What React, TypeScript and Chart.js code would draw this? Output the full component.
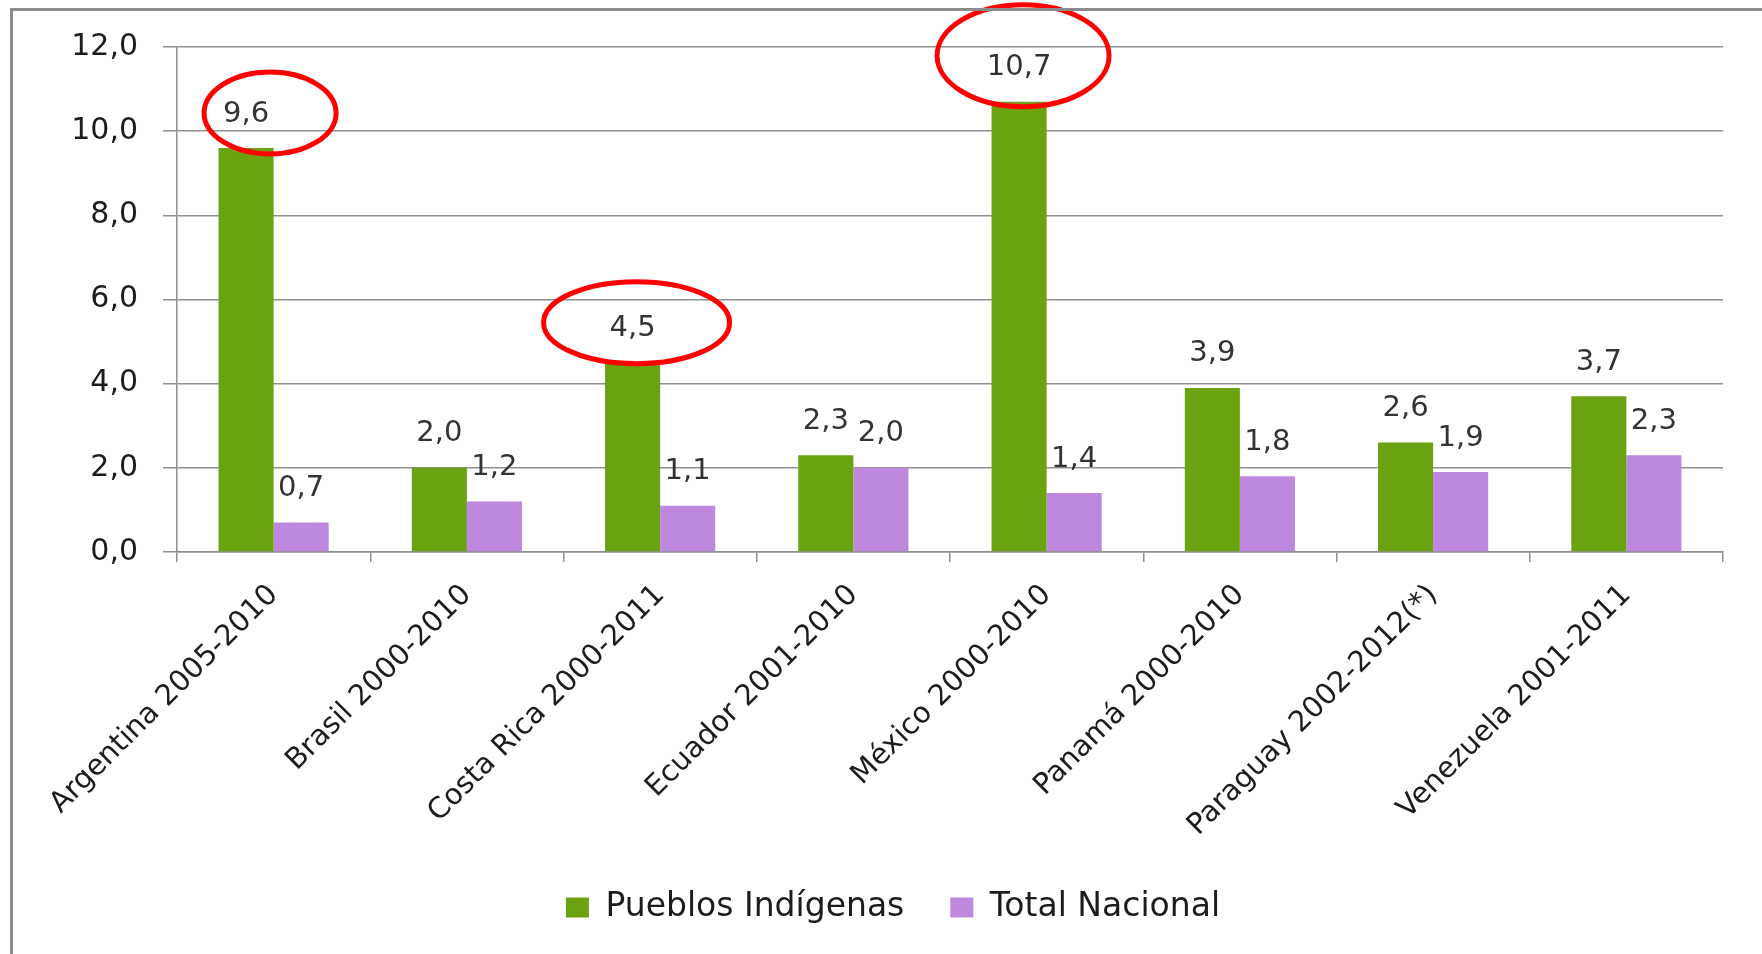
import React, { useEffect, useRef } from "react";
import { Chart, registerables } from "chart.js";

Chart.register(...registerables);

// ---------- data ----------
const categories = [
  "Argentina 2005-2010",
  "Brasil 2000-2010",
  "Costa Rica 2000-2011",
  "Ecuador 2001-2010",
  "México 2000-2010",
  "Panamá 2000-2010",
  "Paraguay 2002-2012(*)",
  "Venezuela 2001-2011",
];
const pueblosIndigenas = [9.6, 2.0, 4.5, 2.3, 10.7, 3.9, 2.6, 3.7];
const totalNacional = [0.7, 1.2, 1.1, 2.0, 1.4, 1.8, 1.9, 2.3];
const seriesNames = ["Pueblos Indígenas", "Total Nacional"];
const yTickValues = [0, 2, 4, 6, 8, 10, 12];
const highlightedCategories = ["Argentina 2005-2010", "Costa Rica 2000-2011", "México 2000-2010"];

// ---------- styles ----------
const GREEN = "#6BA211";
const PURPLE = "#BE88DE";
const GRID = "#8f8f8f";
const TEXT = "#1c1c1c";
const LABEL_TEXT = "#333333";
const PLOT_BOTTOM = 552;
const PAD_BOTTOM = 20;

// ellipse geometry relative to the highlighted bar (center x, top y)
const ellipseStyle: Record<string, { dx: number; dy: number; rx: number; ry: number }> = {
  "Argentina 2005-2010": { dx: 24, dy: -35, rx: 66, ry: 41 },
  "Costa Rica 2000-2011": { dx: 4, dy: -40, rx: 93, ry: 41 },
  "México 2000-2010": { dx: 4, dy: -46, rx: 86, ry: 51 },
};

const fmt = (v: number) => v.toFixed(1).replace(".", ",");

const labelsPlugin = {
  id: "valueLabelsAndCircles",
  afterDatasetsDraw(chart: any) {
    const ctx = chart.ctx;
    ctx.save();
    ctx.font = "29px 'DejaVu Sans'";
    ctx.fillStyle = LABEL_TEXT;
    ctx.textAlign = "center";
    ctx.textBaseline = "middle";
    chart.data.datasets.forEach((ds: any, di: number) => {
      const meta = chart.getDatasetMeta(di);
      meta.data.forEach((el: any, i: number) => {
        ctx.fillText(fmt(ds.data[i]), el.x, el.y - 34);
      });
    });
    const meta0 = chart.getDatasetMeta(0);
    ctx.strokeStyle = "#ff0000";
    ctx.lineWidth = 5;
    highlightedCategories.forEach((cat) => {
      const idx = categories.indexOf(cat);
      const el: any = meta0.data[idx];
      const g = ellipseStyle[cat];
      if (!el || !g) return;
      ctx.beginPath();
      ctx.ellipse(el.x + g.dx, el.y + g.dy, g.rx, g.ry, 0, 0, Math.PI * 2);
      ctx.stroke();
    });
    ctx.restore();
  },
};

export default function App() {
  const ref = useRef<HTMLCanvasElement | null>(null);

  useEffect(() => {
    document.body.style.margin = "0";
    const canvas = ref.current;
    if (!canvas) return;
    const chart = new Chart(canvas, {
      type: "bar",
      data: {
        labels: categories,
        datasets: [
          {
            label: seriesNames[0],
            data: pueblosIndigenas,
            backgroundColor: GREEN,
            borderWidth: 0,
            categoryPercentage: 0.57,
            barPercentage: 1.0,
          },
          {
            label: seriesNames[1],
            data: totalNacional,
            backgroundColor: PURPLE,
            borderWidth: 0,
            categoryPercentage: 0.57,
            barPercentage: 1.0,
          },
        ],
      },
      options: {
        responsive: false,
        animation: false,
        layout: { padding: { left: 63, right: 39, top: 47, bottom: PAD_BOTTOM } },
        plugins: {
          legend: {
            display: true,
            position: "bottom",
            labels: {
              boxWidth: 23,
              boxHeight: 20,
              padding: 46,
              color: TEXT,
              font: { family: "DejaVu Sans", size: 33 },
            },
          },
          tooltip: { enabled: false },
        },
        scales: {
          x: {
            offset: true,
            grid: {
              display: true,
              drawOnChartArea: false,
              drawTicks: true,
              tickLength: 10,
              offset: true,
              color: GRID,
              lineWidth: 1.5,
            },
            border: { display: true, color: GRID, width: 1.5 },
            ticks: {
              autoSkip: false,
              maxRotation: 45,
              minRotation: 45,
              padding: 16,
              color: TEXT,
              font: { family: "DejaVu Sans", size: 29 },
            },
            afterFit(scale: any) {
              const ch = scale.chart;
              const legendH = ch.legend ? ch.legend.height : 0;
              const h = ch.height - PAD_BOTTOM - legendH - PLOT_BOTTOM;
              if (h > 0) scale.height = h;
            },
          },
          y: {
            min: 0,
            max: 12,
            grid: {
              color: GRID,
              lineWidth: 1.5,
              drawTicks: true,
              tickLength: 14,
            },
            border: { display: true, color: GRID, width: 1.5 },
            ticks: {
              stepSize: 2,
              padding: 25,
              color: TEXT,
              font: { family: "DejaVu Sans", size: 30 },
              callback: (v: any) => fmt(Number(v)),
            },
            afterBuildTicks(scale: any) {
              scale.ticks = yTickValues.map((v) => ({ value: v }));
            },
            afterFit(scale: any) {
              scale.width = 114;
            },
          },
        },
      },
      plugins: [labelsPlugin],
    });
    return () => chart.destroy();
  }, []);

  return (
    <div style={{ position: "fixed", left: 0, top: 0, width: 1762, height: 954, background: "#fff", overflow: "hidden" }}>
      <canvas ref={ref} width={1762} height={954} style={{ display: "block" }} />
      <div
        style={{
          position: "absolute",
          left: 10,
          top: 8,
          width: 1800,
          height: 1000,
          borderLeft: "3px solid #8c8c8c",
          borderTop: "3px solid #8c8c8c",
          pointerEvents: "none",
        }}
      />
    </div>
  );
}
